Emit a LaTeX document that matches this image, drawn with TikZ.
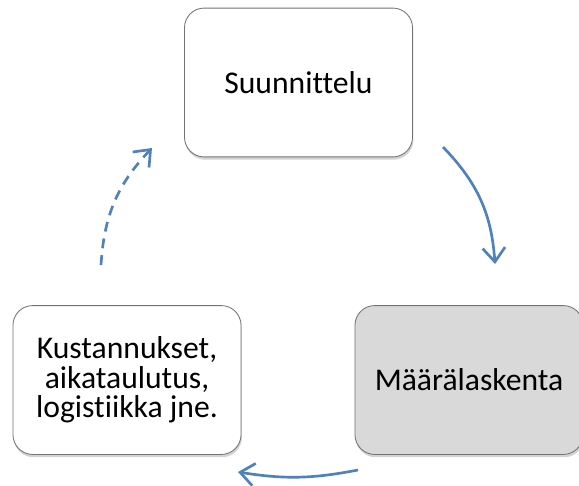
\documentclass[tikz,border=0pt]{standalone}
\usepackage{fontspec}
\setmainfont{Carlito}[Ligatures={NoCommon}]
\usepackage{tikz}
\usetikzlibrary{positioning}
\usetikzlibrary{shadows, arrows.meta}
\definecolor{cycleblue}{RGB}{79,129,189}
\definecolor{boxgray}{RGB}{217,217,217}
\tikzstyle{stage} = [rectangle, rounded corners=14pt, minimum width=5.7cm, minimum height=3.72cm, text centered, align=center, draw=black!55, line width=0.6pt, fill=white, font=\fontsize{22.5}{21}\selectfont, drop shadow={opacity=0.35, shadow xshift=0.6pt, shadow yshift=-2pt}]
\tikzstyle{arrow} = [line width=1.9pt, draw=cycleblue, -{Straight Barb[length=10pt, width=16pt]}]

\begin{document}
\begin{tikzpicture}[x=0.025cm, y=-0.025cm]
        \useasboundingbox (0,0) rectangle (579,486);
        \node[stage] (Su) at (298.5,82.5) {Suunnittelu};
        \node[stage, fill=boxgray] (Ml) at (469,380) {Määrälaskenta};
        \node[stage] (Ku) at (127,380) {Kustannukset,\\aikataulutus,\\logistiikka jne.};

        \coordinate (SuOut) at (443,147);
        \coordinate (MlIn) at (495,264);
        \coordinate (MlOut) at (358,470);
        \coordinate (KuIn) at (238,472);
        \coordinate (KuOut) at (101,265);
        \coordinate (SuIn) at (152,148);

        \draw[arrow] (SuOut) to[bend left=20] (MlIn);
        \draw[arrow] (MlOut) to[bend left=10] (KuIn);
        \draw[arrow, dash pattern=on 7pt off 5pt] (KuOut) to[bend left=20] (SuIn);
    \end{tikzpicture}
\end{document}
